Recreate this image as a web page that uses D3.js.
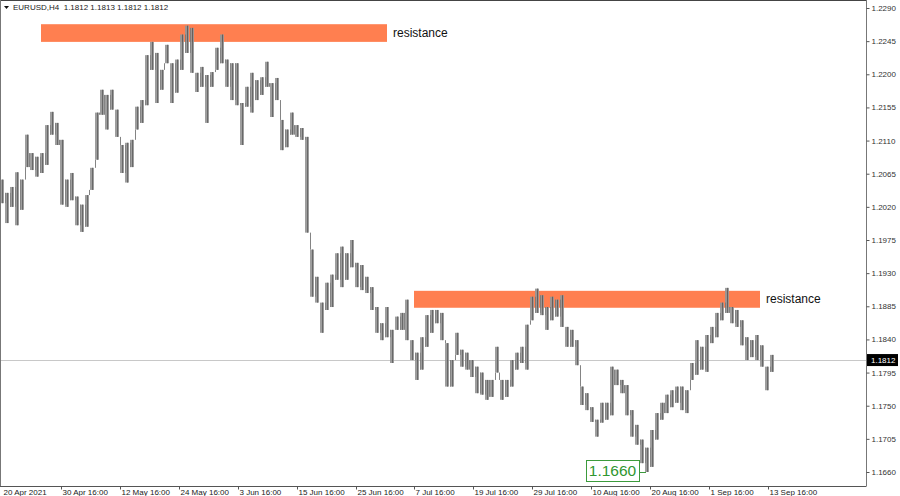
<!DOCTYPE html>
<html>
<head>
<meta charset="utf-8">
<script src="https://cdn.jsdelivr.net/npm/d3@7"></script>
<style>
  body { margin: 0; background: #fff; }
  svg { display: block; font-family: "Liberation Sans", Arial, sans-serif; }
</style>
</head>
<body>
<div id="chart"></div>
<script>
// EURUSD H4, one column = ~4 H4 bars
var highs = [1.2057, 1.2039, 1.2047, 1.2067, 1.2057, 1.2118, 1.2093, 1.2088, 1.2093, 1.2131,
  1.2149, 1.2134, 1.2111, 1.2057, 1.2066, 1.2034, 1.2023, 1.2036, 1.2073, 1.2148,
  1.2179, 1.2172, 1.2179, 1.2152, 1.2104, 1.2107, 1.2111, 1.2156, 1.2165, 1.2226,
  1.2244, 1.2229, 1.2206, 1.2240, 1.2215, 1.2220, 1.2254, 1.2266, 1.2263, 1.2202,
  1.2210, 1.2199, 1.2203, 1.2236, 1.2254, 1.2220, 1.2215, 1.2215, 1.2161, 1.2183,
  1.2202, 1.2192, 1.2196, 1.2217, 1.2188, 1.2195, 1.2138, 1.2125, 1.2148, 1.2131,
  1.2127, 1.2115, 1.1962, 1.1925, 1.1890, 1.1917, 1.1928, 1.1957, 1.1966, 1.1957,
  1.1975, 1.1944, 1.1941, 1.1925, 1.1911, 1.1884, 1.1862, 1.1884, 1.1853, 1.1871,
  1.1876, 1.1894, 1.1839, 1.1822, 1.1843, 1.1873, 1.1880, 1.1880, 1.1876, 1.1835,
  1.1812, 1.1849, 1.1826, 1.1822, 1.1812, 1.1803, 1.1795, 1.1785, 1.1785, 1.1830,
  1.1785, 1.1785, 1.1812, 1.1822, 1.1830, 1.1860, 1.1898, 1.1909, 1.1900, 1.1884,
  1.1898, 1.1894, 1.1900, 1.1857, 1.1853, 1.1839, 1.1776, 1.1767, 1.1748, 1.1731,
  1.1754, 1.1754, 1.1803, 1.1799, 1.1785, 1.1778, 1.1744, 1.1724, 1.1704, 1.1693,
  1.1717, 1.1740, 1.1754, 1.1765, 1.1771, 1.1776, 1.1776, 1.1771, 1.1808, 1.1839,
  1.1830, 1.1846, 1.1857, 1.1876, 1.1890, 1.1910, 1.1884, 1.1880, 1.1866, 1.1843,
  1.1839, 1.1846, 1.1832, 1.1803, 1.1819]

var lows = [1.2025, 1.1998, 1.2020, 1.1995, 1.2016, 1.2074, 1.2070, 1.2061, 1.2066, 1.2077,
  1.2118, 1.2104, 1.2023, 1.2020, 1.2029, 1.1995, 1.1986, 1.1993, 1.2043, 1.2084,
  1.2145, 1.2125, 1.2152, 1.2115, 1.2066, 1.2053, 1.2074, 1.2125, 1.2134, 1.2158,
  1.2206, 1.2161, 1.2179, 1.2215, 1.2161, 1.2175, 1.2206, 1.2229, 1.2202, 1.2176,
  1.2183, 1.2134, 1.2183, 1.2206, 1.2215, 1.2183, 1.2165, 1.2158, 1.2104, 1.2156,
  1.2148, 1.2165, 1.2172, 1.2183, 1.2142, 1.2165, 1.2097, 1.2101, 1.2118, 1.2115,
  1.2111, 1.1985, 1.1898, 1.1890, 1.1849, 1.1880, 1.1884, 1.1921, 1.1911, 1.1921,
  1.1938, 1.1911, 1.1907, 1.1903, 1.1880, 1.1849, 1.1839, 1.1843, 1.1808, 1.1853,
  1.1853, 1.1839, 1.1812, 1.1785, 1.1799, 1.1830, 1.1849, 1.1862, 1.1839, 1.1776,
  1.1776, 1.1819, 1.1803, 1.1799, 1.1789, 1.1767, 1.1765, 1.1758, 1.1762, 1.1795,
  1.1758, 1.1762, 1.1776, 1.1799, 1.1808, 1.1799, 1.1866, 1.1876, 1.1873, 1.1853,
  1.1866, 1.1871, 1.1857, 1.1830, 1.1830, 1.1805, 1.1751, 1.1744, 1.1728, 1.1708,
  1.1727, 1.1731, 1.1737, 1.1778, 1.1767, 1.1737, 1.1708, 1.1697, 1.1672, 1.1660,
  1.1667, 1.1704, 1.1731, 1.1740, 1.1748, 1.1754, 1.1744, 1.1740, 1.1785, 1.1792,
  1.1799, 1.1796, 1.1835, 1.1843, 1.1866, 1.1876, 1.1862, 1.1857, 1.1832, 1.1812,
  1.1816, 1.1812, 1.1803, 1.1771, 1.1796]

var priceTicks = [1.2290, 1.2245, 1.2200, 1.2155, 1.2110, 1.2065, 1.2020, 1.1975,
  1.1930, 1.1885, 1.1840, 1.1795, 1.1750, 1.1705, 1.1660]

var dateLabels = ["20 Apr 2021", "30 Apr 16:00", "12 May 16:00", "24 May 16:00", "3 Jun 16:00",
  "15 Jun 16:00", "25 Jun 16:00", "7 Jul 16:00", "19 Jul 16:00", "29 Jul 16:00",
  "10 Aug 16:00", "20 Aug 16:00", "1 Sep 16:00", "13 Sep 16:00"]
var dateIndex = [0, 11.8, 23.6, 35.4, 47.2, 59, 70.8, 82.4, 94.2, 106, 117.8, 129.6, 141.4, 153.2]

// resistance zones
var zoneTop = [1.2268, 1.1906]
var zoneBottom = [1.2244, 1.1883]
var zoneStart = [7.8, 82.4]
var zoneEnd = [77, 151.6]

var header = ["1.1812", "1.1813", "1.1812", "1.1812"]
var lastPrice = 1.1812
var lowPrice = 1.1660
var lowIndex = 129

var width = 900, height = 496
var plotRight = 866, plotBottom = 486

var svg = d3.select("#chart").append("svg")
    .attr("width", width)
    .attr("height", height)

svg.append("rect").attr("width", width).attr("height", height).attr("fill", "#fff")

var x = d3.scaleLinear()
    .domain([0, highs.length - 1])
    .range([2, 772])

var y = d3.scaleLinear()
    .domain([1.1660, 1.2290])
    .range([472, 8])

// current price line
svg.append("line")
    .attr("x1", 1).attr("x2", plotRight)
    .attr("y1", Math.round(y(lastPrice)) + 0.5).attr("y2", Math.round(y(lastPrice)) + 0.5)
    .attr("stroke", "#c8c8c8")

// zones
zoneTop.forEach(function(t, i) {
  svg.append("rect")
    .attr("x", x(zoneStart[i]))
    .attr("y", y(t))
    .attr("width", x(zoneEnd[i]) - x(zoneStart[i]))
    .attr("height", y(zoneBottom[i]) - y(t))
    .attr("fill", "#ff7f50")
  svg.append("text")
    .attr("x", x(zoneEnd[i]) + 6)
    .attr("y", (y(t) + y(zoneBottom[i])) / 2)
    .attr("dy", "0.35em")
    .attr("font-size", 12)
    .attr("fill", "#111")
    .text("resistance")
})

// bars
var bars = svg.append("g").attr("opacity", 0.92)
bars.selectAll(".hl")
    .data(highs)
    .enter().append("rect")
    .attr("x", function(d, i) { return x(i) - 2 })
    .attr("width", 4)
    .attr("y", function(d) { return y(d) })
    .attr("height", function(d, i) { return Math.max(1, y(lows[i]) - y(d)) })
    .attr("fill", "#969696")
bars.selectAll(".mid")
    .data(highs)
    .enter().append("line")
    .attr("x1", function(d, i) { return Math.round(x(i)) + 0.5 })
    .attr("x2", function(d, i) { return Math.round(x(i)) + 0.5 })
    .attr("y1", function(d) { return y(d) })
    .attr("y2", function(d, i) { return y(lows[i]) })
    .attr("stroke", "#5c5c5c")
// joins between neighbouring columns
bars.selectAll(".join")
    .data(highs.slice(1))
    .enter().append("line")
    .attr("x1", function(d, i) { return Math.round(x(i + 0.5)) + 0.5 })
    .attr("x2", function(d, i) { return Math.round(x(i + 0.5)) + 0.5 })
    .attr("y1", function(d, i) { return y(Math.min(highs[i], d)) })
    .attr("y2", function(d, i) { return y(Math.max(lows[i], lows[i + 1])) })
    .attr("stroke", "#7a7a7a")

// low price label
var lx = x(lowIndex), ly = y(lowPrice)
svg.append("line")
    .attr("x1", lx - 8).attr("x2", lx - 1)
    .attr("y1", ly + 0.5).attr("y2", ly + 0.5)
    .attr("stroke", "#3c9a3c")
svg.append("rect")
    .attr("x", lx - 61 + 0.5).attr("y", ly - 12 + 0.5)
    .attr("width", 53).attr("height", 21)
    .attr("fill", "#fff")
    .attr("stroke", "#3c9a3c")
svg.append("text")
    .attr("x", lx - 34.5).attr("y", ly - 1.5)
    .attr("dy", "0.35em")
    .attr("text-anchor", "middle")
    .attr("font-size", 15.5)
    .attr("fill", "#2f962f")
    .text(d3.format(".4f")(lowPrice))

// frame
svg.append("line").attr("x1", 0).attr("x2", plotRight).attr("y1", 0.5).attr("y2", 0.5).attr("stroke", "#444")
svg.append("line").attr("x1", 0.5).attr("x2", 0.5).attr("y1", 0).attr("y2", plotBottom).attr("stroke", "#777")

// axes
var yAxis = d3.axisRight(y)
    .tickValues(priceTicks)
    .tickFormat(d3.format(".4f"))
    .tickSize(3)
    .tickPadding(2)
svg.append("g")
    .attr("class", "axis y-axis")
    .attr("transform", "translate(" + (plotRight + 0.5) + ",0)")
    .call(yAxis)
    .call(function(g) {
      g.select(".domain").attr("d", "M0,0V" + plotBottom).attr("stroke", "#777")
      g.selectAll("line").attr("stroke", "#555")
      g.selectAll("text").attr("font-size", 8).attr("fill", "#333").attr("font-family", "Liberation Sans, Arial")
    })

var xAxis = d3.axisBottom(x)
    .tickValues(dateIndex)
    .tickFormat(function(d, i) { return dateLabels[i] })
    .tickSize(3)
svg.append("g")
    .attr("class", "axis x-axis")
    .attr("transform", "translate(0," + (plotBottom + 0.5) + ")")
    .call(xAxis)
    .call(function(g) {
      g.select(".domain").attr("d", "M0,0H" + (plotRight + 0.5)).attr("stroke", "#555")
      g.selectAll("line").attr("stroke", "#555")
      g.select(".tick line").remove()
      g.selectAll("text")
        .attr("text-anchor", "start")
        .attr("x", 1)
        .attr("y", 3)
        .attr("font-size", 8)
        .attr("fill", "#222")
        .attr("font-family", "Liberation Sans, Arial")
    })

// last price tag
svg.append("rect")
    .attr("x", plotRight + 1).attr("y", y(lastPrice) - 6)
    .attr("width", 31).attr("height", 12)
    .attr("fill", "#000")
svg.append("text")
    .attr("x", plotRight + 5).attr("y", y(lastPrice))
    .attr("dy", "0.35em")
    .attr("font-size", 8)
    .attr("fill", "#fff")
    .text(d3.format(".4f")(lastPrice))

// header
svg.append("path")
    .attr("d", "M4,6H9L6.5,9Z")
    .attr("fill", "#111")
svg.append("text")
    .attr("x", 13).attr("y", 10)
    .attr("font-size", 8)
    .attr("fill", "#222")
    .attr("xml:space", "preserve")
    .text("EURUSD,H4  " + header.join(" "))
</script>
</body>
</html>
